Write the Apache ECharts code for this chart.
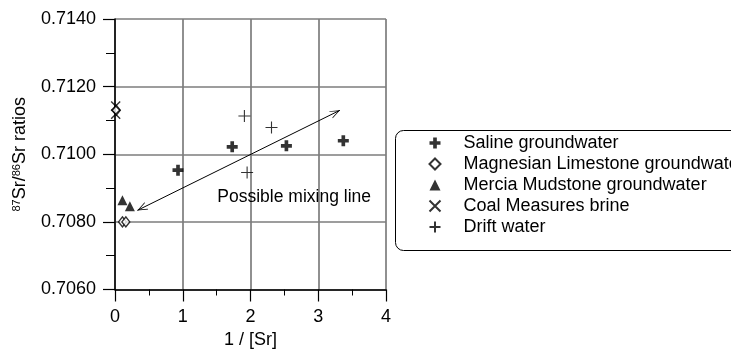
<!DOCTYPE html>
<html>
<head>
<meta charset="utf-8">
<style>
  html, body { margin: 0; padding: 0; background: #fff; }
  #chart { width: 731px; height: 349px; }
</style>
<script src="https://cdn.jsdelivr.net/npm/echarts@6/dist/echarts.min.js"></script>
</head>
<body>
<div id="chart"></div>
<script>
// 1/[Sr] against 87Sr/86Sr for each water type
const salineGroundwater = [[0.93, 0.70953], [1.73, 0.71022], [2.53, 0.71025], [3.37, 0.71040]];
const magnesianLimestone = [[0.11, 0.70800], [0.16, 0.70800], [0.02, 0.71130]];
const merciaMudstone = [[0.11, 0.70864], [0.22, 0.70846]];
const coalMeasuresBrine = [[0.01, 0.71143], [0.01, 0.71118]];
const driftWater = [[1.91, 0.71113], [2.31, 0.71079], [1.95, 0.70946]];

// ends of the two-headed mixing arrow, and where its caption sits
const mixingLine = [[0.33, 0.70834], [3.32, 0.71130]];
const mixingCaption = [1.51, 0.70873];

const xTicks = [0, 1, 2, 3, 4];
const yTicks = [0.7060, 0.7080, 0.7100, 0.7120, 0.7140];

const seriesNames = [
  'Saline groundwater',
  'Magnesian Limestone groundwater',
  'Mercia Mudstone groundwater',
  'Coal Measures brine',
  'Drift water'
];

const FONT = '"Liberation Sans", Arial, sans-serif';

// marker shapes
const boldPlus = 'path://M3,0H6V3H9V6H6V9H3V6H0V3H3Z';
const thinCross = 'path://M0,0L10,10M10,0L0,10';
const thinPlus = 'path://M5,0V10M0,5H10';
// open arrow head (tip up, turned along the line by the library)
const openHead = 'path://M5,0L10,10L9,10L5,2L1,10L0,10Z';

const chart = echarts.init(document.getElementById('chart'), null, { renderer: 'canvas' });

const axisCommon = {
  axisLine: { show: true, onZero: false, lineStyle: { color: '#000', width: 1.5 } },
  splitLine: { show: true, lineStyle: { color: '#7d7d7d', width: 1.7 } },
  minorSplitLine: { show: false }
};

chart.setOption({
  animation: false,
  backgroundColor: '#fff',
  grid: {
    left: 115, right: 345, top: 19, bottom: 59.5,
    containLabel: false, outerBoundsMode: 'none'
  },
  xAxis: Object.assign({}, axisCommon, {
    type: 'value',
    min: xTicks[0],
    max: xTicks[xTicks.length - 1],
    interval: 1,
    name: '1 / [Sr]',
    nameLocation: 'middle',
    nameGap: 38,
    nameTextStyle: { color: '#000', fontSize: 18, fontFamily: FONT },
    axisTick: { show: true, length: 12, lineStyle: { color: '#000', width: 1.2 } },
    minorTick: { show: true, splitNumber: 2, length: 6, lineStyle: { color: '#000', width: 1 } },
    axisLabel: { color: '#000', fontSize: 18, fontFamily: FONT, margin: 19 }
  }),
  yAxis: Object.assign({}, axisCommon, {
    type: 'value',
    min: yTicks[0],
    max: yTicks[yTicks.length - 1],
    interval: 0.002,
    name: '{sup|87}Sr/{sup|86}Sr ratios',
    nameLocation: 'middle',
    nameGap: 86,
    nameRotate: 90,
    nameTextStyle: {
      color: '#000', fontSize: 18, fontFamily: FONT,
      rich: {
        sup: { fontSize: 11, fontFamily: FONT, color: '#000', verticalAlign: 'top', padding: [0, 0, 7, 0] }
      }
    },
    axisTick: { show: true, length: 12, lineStyle: { color: '#000', width: 1.2 } },
    minorTick: { show: true, splitNumber: 2, length: 9, lineStyle: { color: '#000', width: 1 } },
    axisLabel: {
      color: '#000', fontSize: 18, fontFamily: FONT, margin: 19,
      formatter: v => v.toFixed(4)
    }
  }),
  legend: {
    data: seriesNames,
    orient: 'vertical',
    left: 422,
    top: 129,
    itemWidth: 11,
    itemHeight: 11,
    itemGap: 3,
    selectedMode: false,
    textStyle: { color: '#000', fontSize: 18, fontFamily: FONT, lineHeight: 18, padding: [0, 0, 0, 18] }
  },
  graphic: [{
    type: 'rect',
    left: 393,
    top: 128,
    shape: { width: 420, height: 120, r: 8 },
    style: { fill: 'none', stroke: '#000', lineWidth: 1 },
    silent: true,
    z: -1
  }],
  series: [
    {
      name: seriesNames[0], type: 'scatter', data: salineGroundwater,
      symbol: boldPlus, symbolSize: 11, symbolKeepAspect: true,
      itemStyle: { color: '#000' }
    },
    {
      name: seriesNames[1], type: 'scatter', data: magnesianLimestone,
      symbol: 'diamond', symbolSize: [8, 10],
      itemStyle: { color: '#fff', borderColor: '#000', borderWidth: 1.3 }
    },
    {
      name: seriesNames[2], type: 'scatter', data: merciaMudstone,
      symbol: 'triangle', symbolSize: 10,
      itemStyle: { color: '#000' }
    },
    {
      name: seriesNames[3], type: 'scatter', data: coalMeasuresBrine,
      symbol: thinCross, symbolSize: 9, symbolKeepAspect: true,
      itemStyle: { color: 'none', borderColor: '#000', borderWidth: 1.4 }
    },
    {
      name: seriesNames[4], type: 'scatter', data: driftWater,
      symbol: thinPlus, symbolSize: 12, symbolKeepAspect: true,
      itemStyle: { color: 'none', borderColor: '#000', borderWidth: 1.1 }
    },
    {
      name: 'mixing', type: 'scatter', data: [],
      markLine: {
        silent: true,
        symbol: [openHead, openHead],
        symbolSize: [8, 10],
        symbolOffset: [[0, 5], [0, 5]],
        lineStyle: { color: '#000', width: 1, type: 'solid' },
        label: { show: false },
        data: [[{ coord: mixingLine[0] }, { coord: mixingLine[1] }]]
      },
      markPoint: {
        silent: true,
        symbol: 'circle',
        symbolSize: 0,
        label: {
          show: true, position: 'right', distance: 0,
          color: '#000', fontSize: 17.5, fontFamily: FONT,
          formatter: 'Possible mixing line'
        },
        data: [{ coord: mixingCaption }]
      }
    }
  ]
});
</script>
</body>
</html>
